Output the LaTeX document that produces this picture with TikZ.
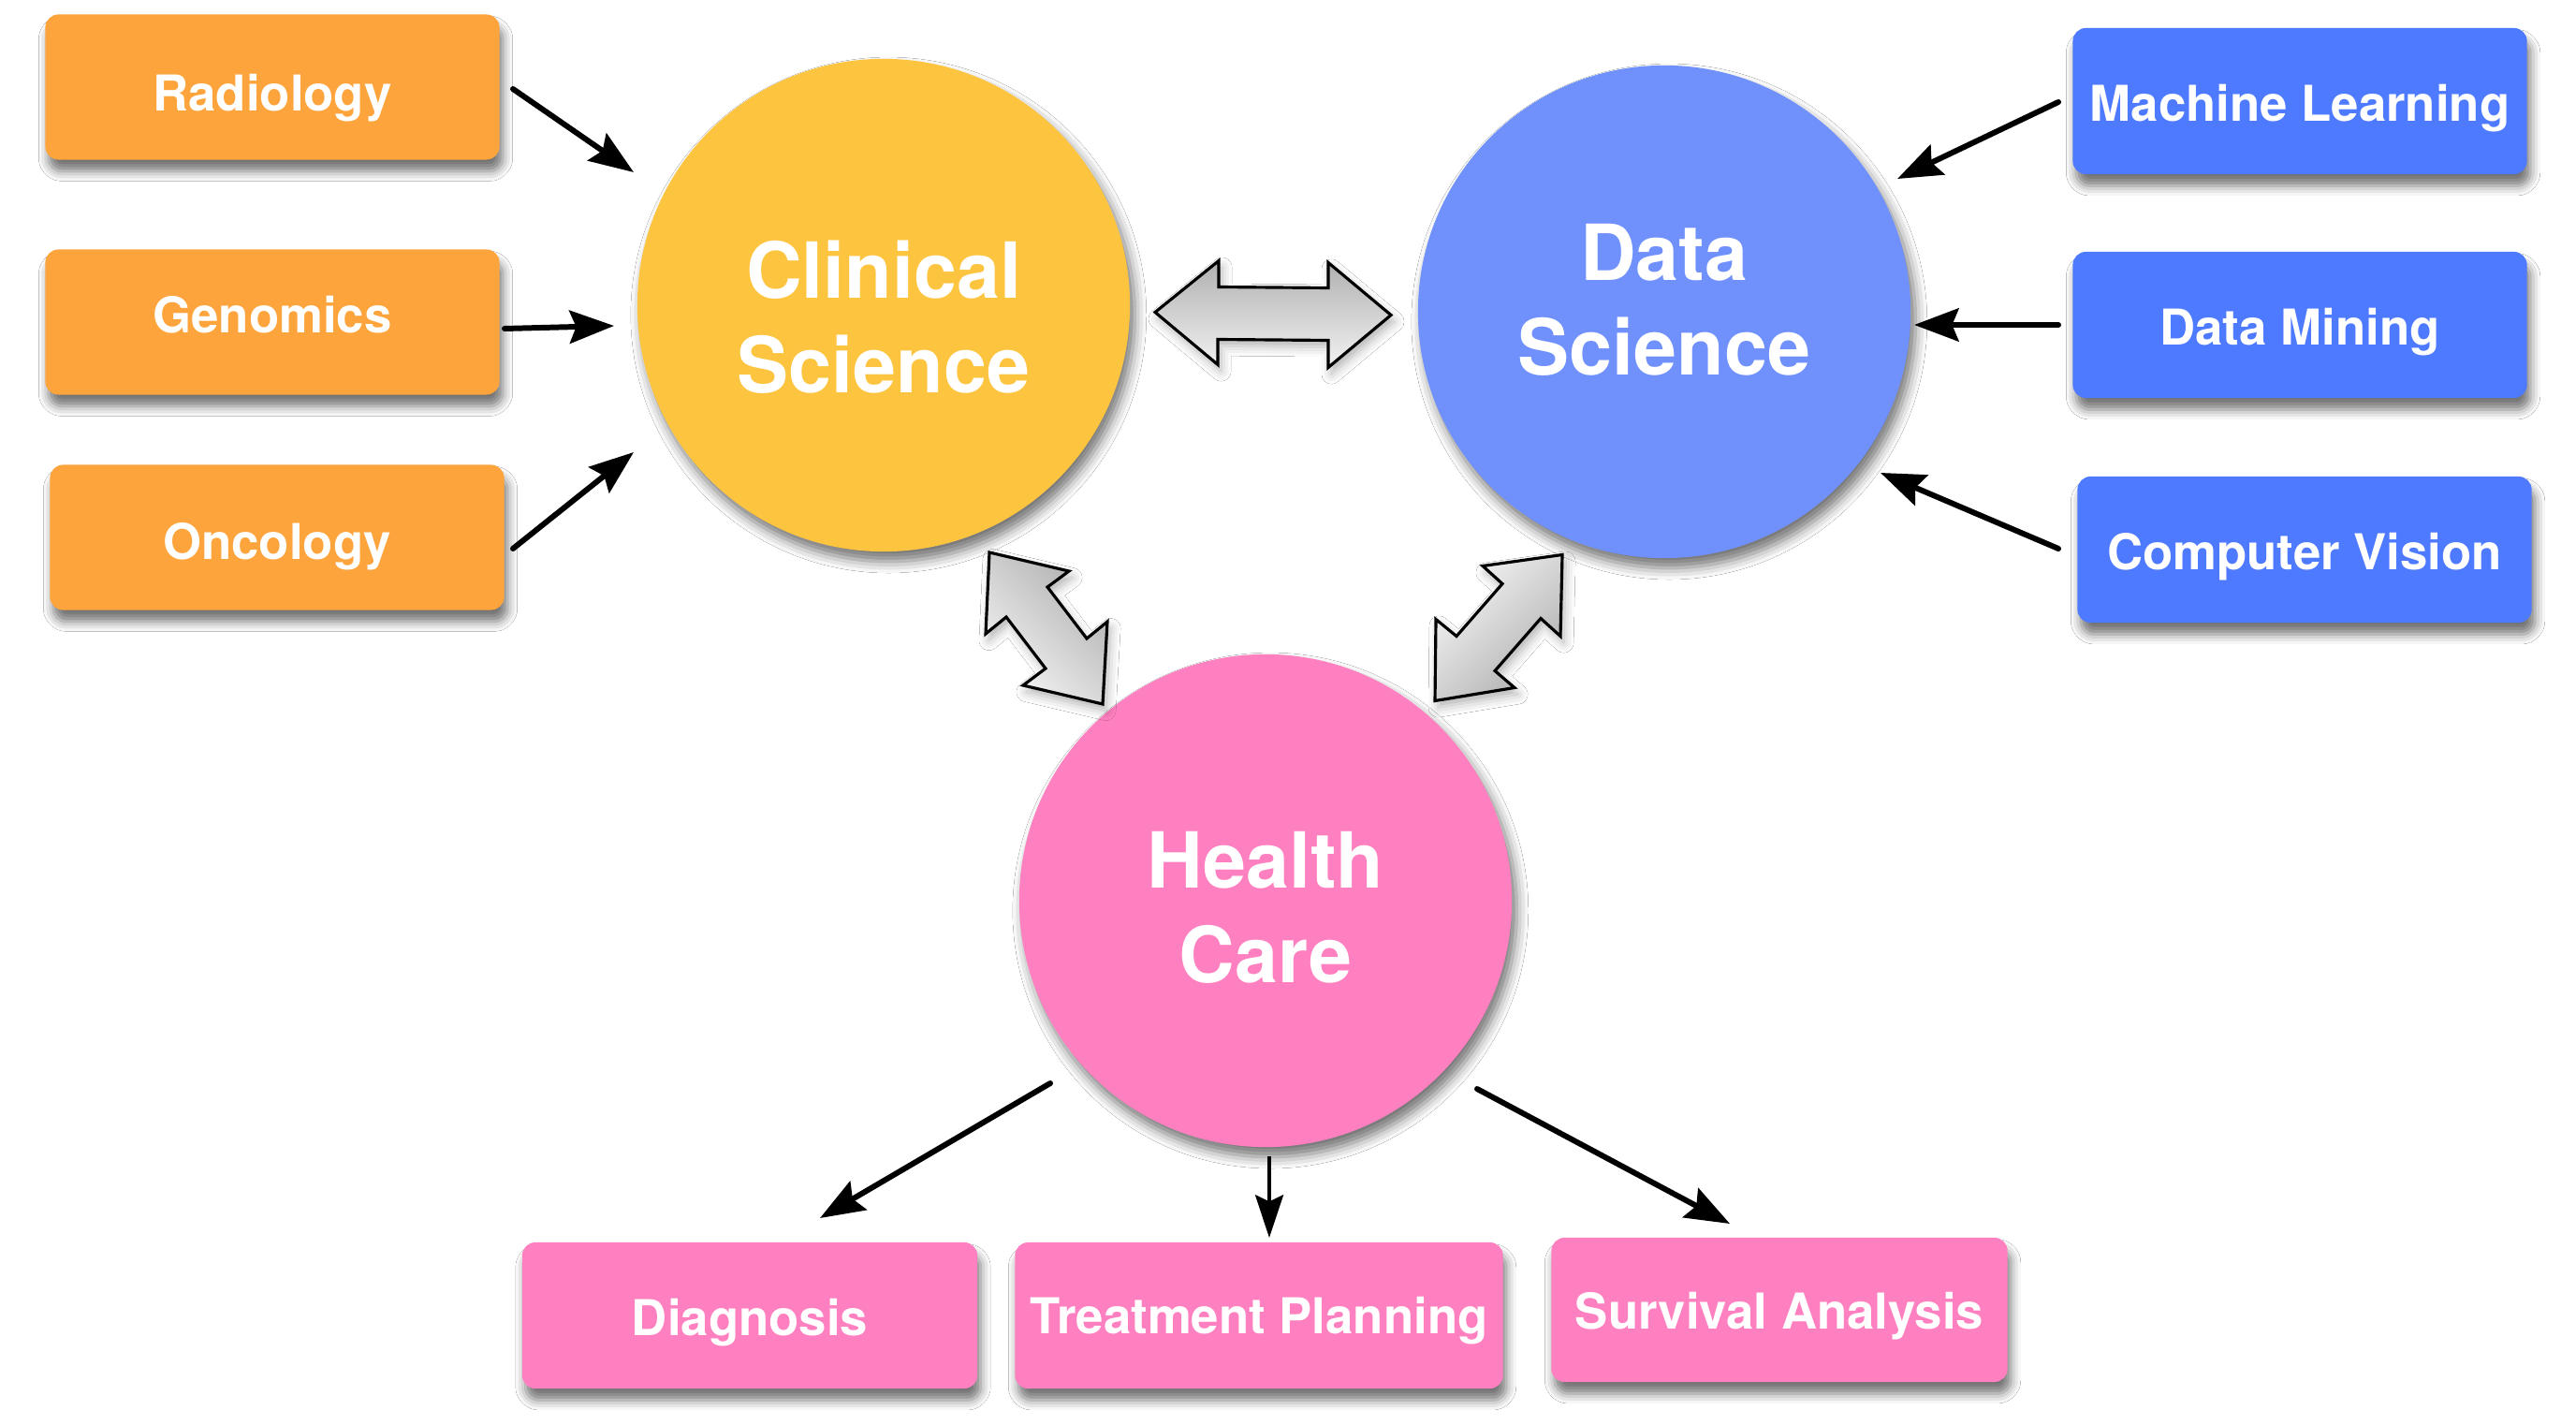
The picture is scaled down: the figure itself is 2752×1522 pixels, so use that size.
\documentclass[tikz,border=0pt]{standalone}
\usepackage{fontspec}
\setmainfont{TeX Gyre Heros}
\usetikzlibrary{shadows.blur,arrows.meta,calc}
\definecolor{orangebox}{RGB}{253,164,60}
\definecolor{clinicalc}{RGB}{253,196,64}
\definecolor{datac}{RGB}{112,145,252}
\definecolor{bluebox}{RGB}{78,122,255}
\definecolor{pinkc}{RGB}{255,128,192}
\newcommand{\lowerby}[2]{\raisebox{-#1}{#2}}
\begin{document}
\begin{tikzpicture}[x=0.01cm,y=-0.01cm,
  boxstyle/.style={rounded corners=4pt, minimum width=4.85cm, minimum height=1.55cm,
    text=white, font=\fontsize{15}{18}\selectfont\bfseries, inner sep=0pt,
    text height=10.8pt, text depth=0pt,
    blur shadow={shadow xshift=1pt, shadow yshift=-3.5pt, shadow blur radius=3pt, shadow opacity=55}},
  bigcircle/.style={circle, minimum size=5.26cm, inner sep=0pt,
    blur shadow={shadow xshift=1.5pt, shadow yshift=-3pt, shadow blur radius=3.5pt, shadow opacity=55}},
  circletext/.style={text=white, font=\fontsize{23.5}{28.7}\selectfont\bfseries, align=center},
  arr/.style={line width=1.7pt, line cap=round, -{Stealth[length=13.5pt,width=10pt,inset=2pt]}},
  thinarr/.style={line width=1.1pt, -{Stealth[length=13pt,width=8.5pt,inset=2pt]}},
  fatarrow/.style={draw=black, line width=0.9pt, line join=miter,
    blur shadow={shadow xshift=1pt, shadow yshift=-2pt, shadow blur radius=3pt, shadow opacity=30}}
]
\useasboundingbox[fill=white] (0,0) rectangle (2752,1522);

% circles
\node[bigcircle, fill=clinicalc, label={[circletext, yshift=-3.7pt]center:Clinical\\Science}] (cs) at (944,326) {};
\node[bigcircle, fill=datac, label={[circletext, yshift=3.7pt]center:Data\\Science}] (ds) at (1778,333) {};
\node[bigcircle, fill=pinkc, label={[circletext, yshift=-2pt]center:Health\\Care}] (hc) at (1352,962) {};

% orange boxes
\node[boxstyle, fill=orangebox] (rad) at (291,93) {\lowerby{1.8pt}{Radiology}};
\node[boxstyle, fill=orangebox] (gen) at (291,344) {\lowerby{-2pt}{Genomics}};
\node[boxstyle, fill=orangebox] (onc) at (296,574) {\lowerby{1.4pt}{Oncology}};

% blue boxes
\node[boxstyle, fill=bluebox, minimum height=1.56cm] (ml) at (2457,108) {\lowerby{0.7pt}{Machine Learning}};
\node[boxstyle, fill=bluebox, minimum height=1.56cm] (dm) at (2457,347) {\lowerby{0.7pt}{Data Mining}};
\node[boxstyle, fill=bluebox, minimum height=1.56cm] (cv) at (2462,587) {\lowerby{0.7pt}{Computer Vision}};

% pink boxes
\node[boxstyle, fill=pinkc, minimum height=1.56cm, minimum width=4.86cm] (diag) at (801,1405) {\lowerby{0.7pt}{Diagnosis}};
\node[boxstyle, fill=pinkc, minimum height=1.56cm, minimum width=5.21cm] (treat) at (1345,1405) {Treatment Planning};
\node[boxstyle, fill=pinkc, minimum height=1.54cm, minimum width=4.87cm] (surv) at (1901,1399) {\lowerby{0.5pt}{Survival Analysis}};

% black arrows
\draw[arr] ([shift={(257,2)}]rad.center) -- ([shift={(-267,-142)}]cs.center);
\draw[arr] ([shift={(248,7)}]gen.center) -- ([shift={(-288,22)}]cs.center);
\draw[arr] ([shift={(252,12)}]onc.center) -- ([shift={(-267,157)}]cs.center);
\draw[arr] ([shift={(-258,1)}]ml.center) -- ([shift={(249,-142)}]ds.center);
\draw[arr] ([shift={(-258,0)}]dm.center) -- ([shift={(267,14)}]ds.center);
\draw[arr] ([shift={(-263,-1)}]cv.center) -- ([shift={(231,172)}]ds.center);
\draw[arr] ([shift={(-230,195)}]hc.center) -- ([shift={(75,-104)}]diag.center);
\draw[thinarr] ([shift={(4,273)}]hc.center) -- ([shift={(11,-83)}]treat.center);
\draw[arr] ([shift={(226,201)}]hc.center) -- ([shift={(-53,-92)}]surv.center);

% fat grey double arrows
\begin{scope}[shift={($(cs)!0.5!(ds)$)}]
  \draw[fatarrow, top color=gray!62, bottom color=gray!10]
    (-127,4) -- (-59,-51) -- (-59,-23) -- (58,-22) -- (58,-49) -- (125,7)
    -- (58,63) -- (58,34) -- (-60,33) -- (-60,60) -- cycle;
\end{scope}
\begin{scope}[shift={($(cs)!0.5!(hc)$)}]
  \draw[fatarrow, top color=gray!8, bottom color=gray!62, shading angle=135]
    (-91,-54) -- (-6,-34) -- (-29,-17) -- (13,38) -- (35,20) -- (30,108)
    -- (-55,88) -- (-31,70) -- (-73,15) -- (-95,33) -- cycle;
\end{scope}
\begin{scope}[shift={($(ds)!0.5!(hc)$)}]
  \draw[fatarrow, top color=gray!8, bottom color=gray!62, shading angle=45]
    (104,-55) -- (19,-43) -- (40,-24) -- (-9,32) -- (-31,14) -- (-32,101)
    -- (53,87) -- (32,69) -- (81,13) -- (102,32) -- cycle;
\end{scope}
\end{tikzpicture}
\end{document}
